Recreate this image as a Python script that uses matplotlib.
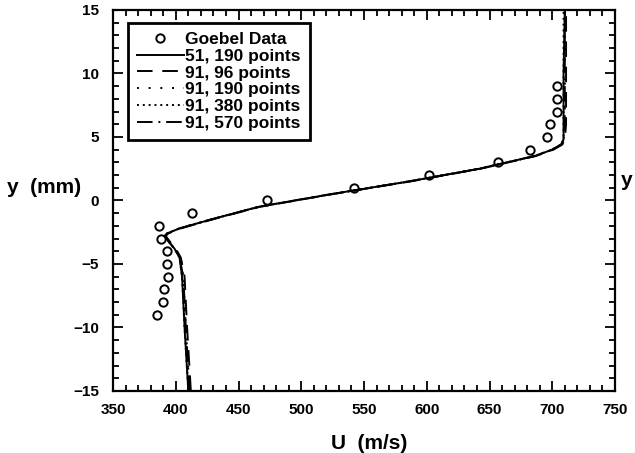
import matplotlib
matplotlib.use('Agg')
import matplotlib.pyplot as plt
from matplotlib.ticker import MultipleLocator

plt.rcParams['font.family'] = ['Liberation Sans', 'DejaVu Sans']
plt.rcParams['font.weight'] = 'bold'

# Goebel experimental data
goebel_u = [385, 390, 391, 394, 393, 393, 388, 387, 413, 473, 542, 602, 657, 682, 696, 698, 704, 704, 704]
goebel_y = [-9, -8, -7, -6, -5, -4, -3, -2, -1, 0, 1, 2, 3, 4, 5, 6, 7, 8, 9]

# computed profiles (common y stations)
prof_y = [-15, -10, -6, -4.5, -3.8, -3.2, -2.8, -2.6, -2.2, -1.5, -0.5, 0.5, 1.5, 2.5, 3.5, 4.0, 4.4, 4.8, 6, 10, 15]
u_51_190 = [410, 407, 405, 403, 399, 394, 391, 393, 403, 428, 466, 524, 586, 642, 686, 700, 707, 709, 709, 709, 710]
u_91_96 = [412, 409, 407, 404, 400, 395, 392, 394, 404, 429, 467, 525, 587, 643, 687, 701, 708, 710, 711, 711, 711]
u_91_190 = [411, 408, 406, 404, 399, 394, 391, 393, 403, 428, 466, 524, 586, 642, 686, 700, 707, 709, 710, 710, 710]
u_91_380 = [410, 407, 405, 403, 399, 394, 391, 393, 403, 428, 466, 524, 586, 642, 686, 700, 707, 709, 709, 709, 709]
u_91_570 = [411, 408, 406, 403, 399, 394, 391, 393, 403, 428, 466, 524, 586, 642, 686, 700, 707, 709, 710, 710, 710]

labels = ['Goebel Data', '51, 190 points', '91, 96 points', '91, 190 points',
          '91, 380 points', '91, 570 points']


def main():
    fig = plt.figure(figsize=(6.35, 4.53), dpi=100)
    ax = fig.add_axes([0.178, 0.137, 0.7905, 0.841])

    lw = 1.4
    ax.plot(goebel_u, goebel_y, 'o', mfc='none', mec='black', ms=6, mew=1.4,
            label=labels[0])
    ax.plot(u_51_190, prof_y, color='black', lw=lw, ls='-', label=labels[1])
    ax.plot(u_91_96, prof_y, color='black', lw=lw, ls=(0, (8, 5)), label=labels[2])
    ax.plot(u_91_190, prof_y, color='black', lw=lw, ls=(0, (1, 5)), label=labels[3])
    ax.plot(u_91_380, prof_y, color='black', lw=lw, ls=(0, (1, 2)), label=labels[4])
    ax.plot(u_91_570, prof_y, color='black', lw=lw, ls=(0, (8, 3, 1, 3)), label=labels[5])

    ax.set_xlim(350, 750)
    ax.set_ylim(-15, 15)
    ax.xaxis.set_major_locator(MultipleLocator(50))
    ax.xaxis.set_minor_locator(MultipleLocator(10))
    ax.yaxis.set_major_locator(MultipleLocator(5))
    ax.yaxis.set_minor_locator(MultipleLocator(1))
    ax.tick_params(which='both', direction='in', top=True, right=True,
                   width=1.3, labelsize=11)
    ax.tick_params(which='major', length=7)
    ax.tick_params(which='minor', length=4)
    ax.tick_params(axis='x', pad=9)
    ax.tick_params(axis='y', pad=10)
    for s in ax.spines.values():
        s.set_linewidth(1.6)

    ax.set_xlabel('U  (m/s)', fontsize=15, fontweight='bold')
    ax.xaxis.set_label_coords(0.51, -0.113)
    ax.set_ylabel('y  (mm)', fontsize=15, fontweight='bold', rotation=0,
                  ha='left', va='center')
    ax.yaxis.set_label_coords(-0.211, 0.535)

    leg = ax.legend(loc='upper left', bbox_to_anchor=(0.03, 0.966),
                    borderaxespad=0, fancybox=False, edgecolor='black',
                    fontsize=12.5, handlelength=2.7, handletextpad=0.1,
                    labelspacing=0.1, borderpad=0.5, framealpha=1)
    leg.get_frame().set_linewidth(2)

    # label of the neighbouring panel at right edge
    fig.text(621 / 635, 1 - 180 / 453, 'y', fontsize=15, fontweight='bold',
             ha='left', va='center')

    fig.savefig('out.png', dpi=100)


if __name__ == "__main__":
    main()
